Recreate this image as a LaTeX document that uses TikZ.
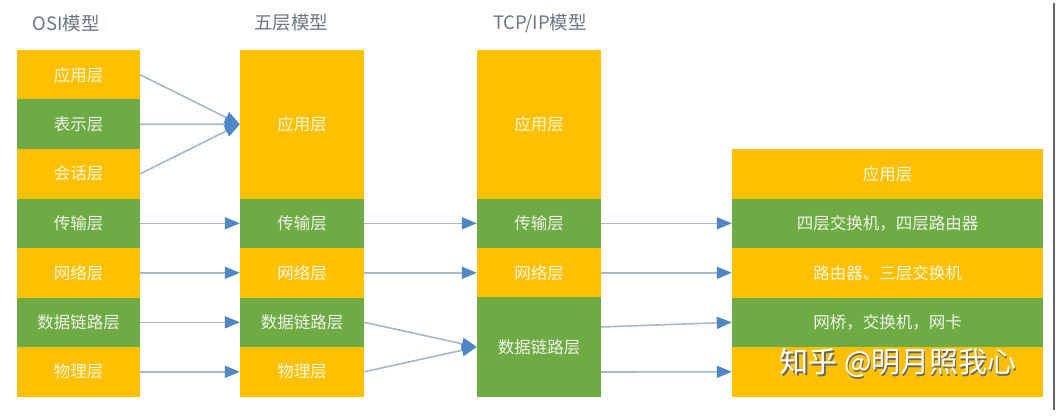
\documentclass[tikz,border=0pt]{standalone}
\usepackage{fontspec}
\setmainfont{Noto Sans CJK SC}
\usepackage{xcolor}
\usepackage{tikz}
\usetikzlibrary{positioning,arrows.meta}
\definecolor{layerY}{HTML}{FFC000}
\definecolor{layerG}{HTML}{6EAB45}
\definecolor{flowln}{HTML}{A9B7C9}
\definecolor{flowtip}{HTML}{4E86C6}
\definecolor{titlegr}{HTML}{6B7785}
\tikzset{
  every node/.style={font=\fontsize{16.5}{18}\selectfont},
  cell/.style={rectangle, fill=#1, draw=none, inner sep=0pt,
    text=white, text opacity=0.88},
  ttl/.style={text=titlegr, font=\fontsize{18.5}{20}\selectfont},
  flow/.style={draw=flowln, line width=1.6pt,
    -{Triangle[length=15pt,width=12pt,color=flowtip]}}
}

\begin{document}
\begin{tikzpicture}[x=1pt,y=-1pt]
\fill[white] (0,0) rectangle (1059,417);
\useasboundingbox (0,0) rectangle (1059,417);

% =========================
% TITLES
% =========================
\node[ttl] (tOSI)  at (66,23)  {OSI模型};
\node[ttl] (tFive) at (291,23) {五层模型};
\node[ttl] (tTCP)  at (540,23) {TCP/IP模型};

% =========================
% OSI (7 layers)
% =========================
\foreach \name/\row/\clr/\txt in {
  osiA/0/layerY/应用层,
  osiB/1/layerG/表示层,
  osiC/2/layerY/会话层,
  osiD/3/layerG/传输层,
  osiE/4/layerY/网络层,
  osiF/5/layerG/数据链路层,
  osiG/6/layerY/物理层
}{
  \node[cell=\clr, minimum width=123pt, minimum height=49.6pt]
    (\name) at (78.5,{74.8+49.5*\row}) {\txt};
}

% =========================
% five-layer model
% =========================
\node[cell=layerY, minimum width=124pt, minimum height=148.6pt]
  (fiveA) at (302,124.25) {应用层};
\foreach \name/\row/\clr/\txt in {
  fiveB/3/layerG/传输层,
  fiveC/4/layerY/网络层,
  fiveD/5/layerG/数据链路层,
  fiveE/6/layerY/物理层
}{
  \node[cell=\clr, minimum width=124pt, minimum height=49.6pt]
    (\name) at (302,{74.8+49.5*\row}) {\txt};
}

% =========================
% TCP/IP model
% =========================
\node[cell=layerY, minimum width=124pt, minimum height=148.6pt]
  (tcpA) at (539,124.25) {应用层};
\node[cell=layerG, minimum width=124pt, minimum height=49.6pt]
  (tcpB) at (539,223.3) {传输层};
\node[cell=layerY, minimum width=124pt, minimum height=49.6pt]
  (tcpC) at (539,272.8) {网络层};
\node[cell=layerG, minimum width=124pt, minimum height=99.1pt]
  (tcpD) at (539,347) {数据链路层};

% =========================
% DEVICES (right column)
% =========================
\foreach \name/\row/\clr/\txt in {
  devA/2/layerY/应用层,
  devB/3/layerG/四层交换机，四层路由器,
  devC/4/layerY/路由器、三层交换机,
  devD/5/layerG/网桥，交换机，网卡,
  devE/6/layerY/{}
}{
  \node[cell=\clr, minimum width=311pt, minimum height=49.6pt]
    (\name) at (887.5,{74.8+49.5*\row}) {\txt};
}

% =========================
% ARROWS
% =========================
\foreach \src/\dst in {osiA/fiveA, osiB/fiveA, osiC/fiveA,
  osiD/fiveB, osiE/fiveC, osiF/fiveD, osiG/fiveE,
  fiveB/tcpB, fiveC/tcpC, fiveD/tcpD, fiveE/tcpD,
  tcpB/devB, tcpC/devC}
  \draw[flow] (\src.east) -- (\dst.west);
\draw[flow] ([yshift=20pt]tcpD.east) -- (devD.west);
\draw[flow] ([yshift=-25pt]tcpD.east) -- (devE.west);

% frame edge on the right
\draw[gray!80!black, line width=1.2pt] (1054,3) -- (1054,410);

% watermark
\node[text=black!60, font=\fontsize{29}{30}\selectfont]
  (wmShade) at (899.5,364.5) {知乎 @明月照我心};
\node[text=white, font=\fontsize{29}{30}\selectfont]
  (wm) at (898,363) {知乎 @明月照我心};

\end{tikzpicture}
\end{document}
